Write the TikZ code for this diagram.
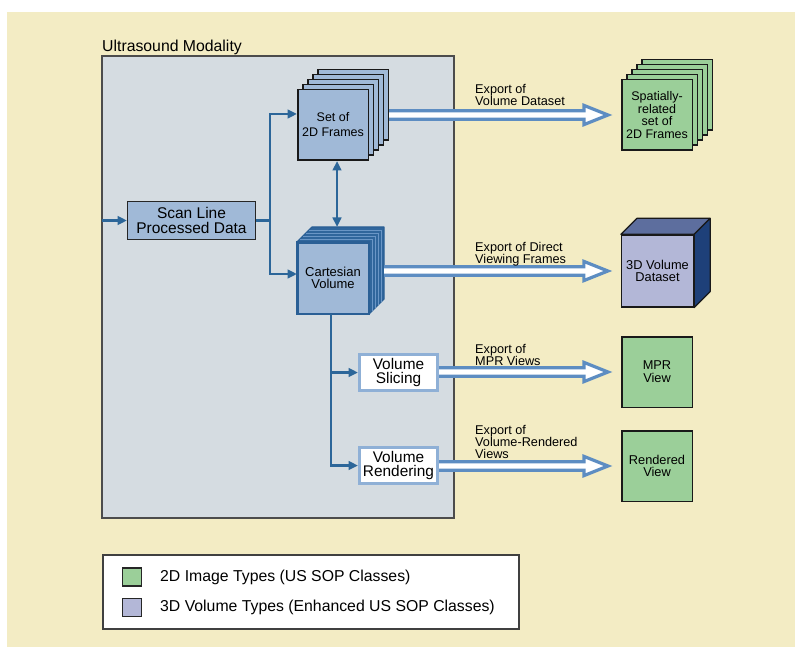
\documentclass[tikz,border=0pt]{standalone}
\usepackage{fontspec}
\setmainfont{Liberation Sans}
\usetikzlibrary{arrows.meta,calc}
\definecolor{beige}{HTML}{F3ECC4}
\definecolor{usgray}{HTML}{D5DCE1}
\definecolor{boxblue}{HTML}{A0B9D7}
\definecolor{connblue}{HTML}{2C6699}
\definecolor{expblue}{HTML}{5D8DC2}
\definecolor{vsborder}{HTML}{8FB0D6}
\definecolor{greenbox}{HTML}{9BCF99}
\definecolor{purplebox}{HTML}{B3B7D7}
\definecolor{voltop}{HTML}{5D6E9E}
\definecolor{volside}{HTML}{1E4079}
\definecolor{cvside}{HTML}{30669C}
\definecolor{cvslice}{HTML}{6A96C6}
\definecolor{cvedge}{HTML}{2A5F95}
\newcommand\exparrow[2]{%
  \filldraw[expo] ($(#1)+(0,-4.2)$) -- ($(#2.west)+(-37,-4.2)$) -- ($(#2.west)+(-37,-9.6)$)
    -- ($(#2.west)+(-13,0)$) -- ($(#2.west)+(-37,9.6)$) -- ($(#2.west)+(-37,4.2)$) -- ($(#1)+(0,4.2)$);}
\begin{document}
\begin{tikzpicture}[x=1pt,y=-1pt,
  conn/.style={draw=connblue, line width=2.7pt, -{Triangle[length=9.5pt,width=8.5pt]}},
  expo/.style={draw=expblue, fill=white, line width=3.2pt, line join=miter},
  lbl/.style={inner sep=0pt, anchor=north west, align=left, font=\fontsize{12.7}{12.2}\selectfont},
  bluebox/.style={draw=black!85, line width=1.3pt, fill=boxblue, inner sep=0pt, align=center},
  framebox/.style={draw=black!90, line width=1.5pt, fill=boxblue, inner sep=0pt, align=center,
    minimum width=70.5pt, minimum height=70.5pt},
  gframe/.style={draw=black!90, line width=1.5pt, fill=greenbox, inner sep=0pt, align=center,
    minimum width=70.5pt, minimum height=70.5pt},
  wbox/.style={draw=vsborder, line width=3pt, fill=white, inner sep=0pt, align=center,
    minimum width=78pt, minimum height=36pt, font=\fontsize{15.4}{14.8}\selectfont},
  sq/.style={draw=black!85, line width=1.2pt, inner sep=0pt, minimum width=19pt, minimum height=18pt},
  legtxt/.style={inner sep=0pt, anchor=base west, font=\fontsize{15.8}{16}\selectfont}
]
\useasboundingbox (0,0) rectangle (795,647);
\fill[white] (0,0) rectangle (795,647);
\fill[beige] (7,12) rectangle (795,647);

% modality frame
\node[font=\fontsize{15.8}{16}\selectfont, anchor=base west, inner sep=0pt] (title) at (102,52) {Ultrasound Modality};
\node[draw=black!70, line width=1.4pt, fill=usgray, anchor=north west, outer sep=0pt, inner sep=0pt,
  minimum width=352pt, minimum height=462pt] (us) at (102,56) {};

% scan line
\node[bluebox, minimum width=127.7pt, minimum height=37.7pt, font=\fontsize{15.5}{15.5}\selectfont] (sl) at (191.5,220.5) {Scan Line\\Processed Data};

% set of 2D frames
\foreach \k in {4,3,2,1} \node[framebox] (fr\k) at ({333+5*\k},{125-5*\k}) {};
\node[framebox, font=\fontsize{12.5}{15}\selectfont] (fr) at (333,125) {Set of\\2D Frames};

% cartesian volume
\node[draw=cvedge, line width=1.5pt, fill=boxblue, inner sep=0pt, align=center, minimum width=70.5pt, minimum height=70.5pt,
  font=\fontsize{13}{12.5}\selectfont] (cv) at (333,278) {Cartesian\\Volume};
\filldraw[draw=cvedge, fill=cvside, line width=1.2pt, line join=round]
  (cv.north west) -- ([shift={(15,-15)}]cv.north west) -- ([shift={(15,-15)}]cv.north east)
  -- ([shift={(15,-15)}]cv.south east) -- (cv.south east) -- (cv.north east) -- cycle;
\foreach \k in {3,6,9,12}
  \draw[cvslice, line width=0.8pt] ([shift={(\k,-\k)}]cv.north west) -- ([shift={(\k,-\k)}]cv.north east) -- ([shift={(\k,-\k)}]cv.south east);
\draw[cvedge, line width=1.5pt] (cv.north west) rectangle (cv.south east);

% volume slicing / rendering
\node[wbox] (vs) at (398.5,372.5) {Volume\\Slicing};
\node[wbox] (vr) at (398.5,465.5) {Volume\\Rendering};

% right side outputs
\foreach \k in {4,3,2,1} \node[gframe] (sp\k) at ({657+5*\k},{115-5*\k}) {};
\node[gframe, font=\fontsize{12.5}{12.5}\selectfont] (sp) at (657,115) {Spatially-\\related\\set of\\2D Frames};

\node[draw=black!90, line width=1.3pt, fill=purplebox, inner sep=0pt, align=center, minimum width=72pt, minimum height=72pt,
  font=\fontsize{12.8}{12.8}\selectfont] (vol) at (657.5,271) {3D Volume\\Dataset};
\filldraw[draw=black!90, fill=voltop, line width=1.2pt, line join=round]
  (vol.north west) -- ([shift={(16,-16)}]vol.north west) -- ([shift={(16,-16)}]vol.north east) -- (vol.north east) -- cycle;
\filldraw[draw=black!90, fill=volside, line width=1.2pt, line join=round]
  (vol.north east) -- ([shift={(16,-16)}]vol.north east) -- ([shift={(16,-16)}]vol.south east) -- (vol.south east) -- cycle;

\node[gframe, font=\fontsize{12.8}{12.8}\selectfont] (mpr) at (657,372) {MPR\\View};
\node[gframe, font=\fontsize{12.8}{12.8}\selectfont] (ren) at (657,466) {Rendered\\View};

% internal connectors
\draw[conn] (us.west |- sl.west) -- (sl.west);
\draw[conn] (sl.east) -- ++(14,0) |- ([yshift=11pt]fr.west);
\draw[conn] (sl.east) -- ++(14,0) |- ([yshift=4pt]cv.west);
\draw[conn, {Triangle[length=9.5pt,width=8.5pt]}-{Triangle[length=9.5pt,width=8.5pt]}]
  ([xshift=4pt]fr.south) -- ([xshift=4pt,yshift=15pt]cv.north);
\draw[conn] ([xshift=-2pt]cv.south) |- (vs.west);
\draw[conn] ([xshift=-2pt]cv.south) |- (vr.west);

% export arrows
\coordinate (e1s) at (fr4.east |- sp.west);
\coordinate (cvR) at ([xshift=15pt]cv.east);
\coordinate (e2s) at (cvR |- vol.west);
\coordinate (e3s) at (vs.east |- mpr.west);
\coordinate (e4s) at (vr.east |- ren.west);
\exparrow{e1s}{sp}
\exparrow{e2s}{vol}
\exparrow{e3s}{mpr}
\exparrow{e4s}{ren}

\node[lbl] (l1) at (475,84) {Export of\\Volume Dataset};
\node[lbl] (l2) at (475,242) {Export of Direct\\Viewing Frames};
\node[lbl] (l3) at (475,344) {Export of\\MPR Views};
\node[lbl] (l4) at (475,425) {Export of\\Volume-Rendered\\Views};

% legend
\node[draw=black!75, line width=1.2pt, fill=white, anchor=north west, outer sep=0pt, inner sep=0pt,
  minimum width=416pt, minimum height=74pt] (leg) at (103,555) {};
\node[sq, fill=greenbox] (lg1) at (132,577) {};
\node[sq, fill=purplebox] (lg2) at (132,607.5) {};
\node[legtxt] (lt1) at (160,581) {2D Image Types (US SOP Classes)};
\node[legtxt] (lt2) at (160,611.5) {3D Volume Types (Enhanced US SOP Classes)};
\end{tikzpicture}
\end{document}
